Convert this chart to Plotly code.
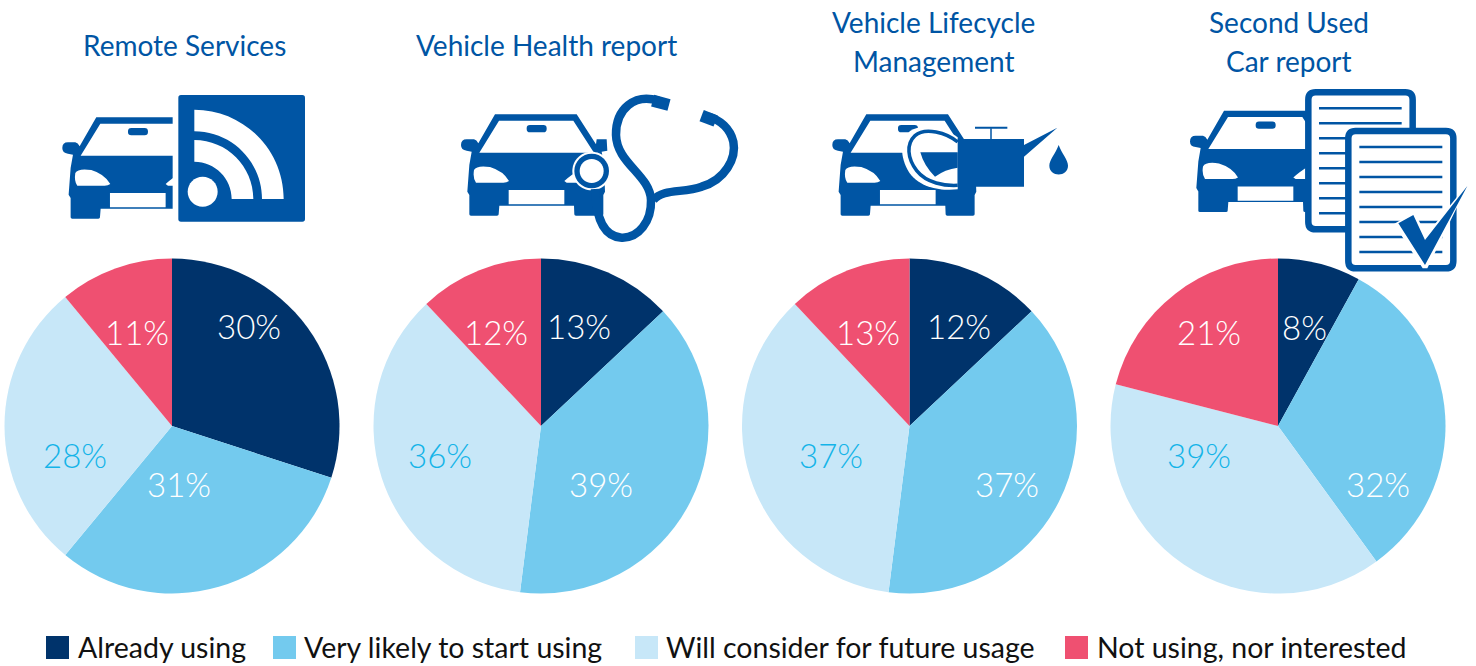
import re
import plotly.graph_objects as go

W, H = 1476, 666
FONT = "Lato"
categories = ["Already using", "Very likely to start using", "Will consider for future usage", "Not using, nor interested"]
colors = ["#00336b", "#73caee", "#c7e7f8", "#ef5071"]
blue = "#0055a4"
titles = [["Remote Services"], ["Vehicle Health report"], ["Vehicle Lifecycle", "Management"], ["Second Used", "Car report"]]
remote = [30, 31, 28, 11]
health = [13, 39, 36, 12]
lifecycle = [13, 39, 36, 12]
used = [8, 32, 39, 21]
remote_labels = ["30%", "31%", "28%", "11%"]
health_labels = ["13%", "39%", "36%", "12%"]
lifecycle_labels = ["12%", "37%", "37%", "13%"]
used_labels = ["8%", "32%", "39%", "21%"]

series = [remote, health, lifecycle, used]
series_labels = [remote_labels, health_labels, lifecycle_labels, used_labels]
centers = [172, 541, 909.5, 1278]
CY, R = 426, 167.5
label_xy = [
    [(249, 326), (179, 484), (75, 455), (137, 332)],
    [(579, 326), (601, 484), (440, 455), (496, 332)],
    [(959, 326), (1007, 484), (831, 455), (868, 332)],
    [(1304, 327), (1378, 484), (1199, 455), (1209, 332)],
]
title_xy = [[(184, 45)], [(546, 45)], [(933, 22), (933, 61)], [(1289, 22), (1289, 61)]]
legend_sq = [46, 273, 635, 1065]
legend_tx = [76, 302, 664, 1095]


def P(path, ox=0, oy=0, s=1.0):
    def rep(m):
        x = (float(m.group(1)) / s + ox) / W
        y = 1 - (float(m.group(2)) / s + oy) / H
        return f"{x:.5f},{y:.5f}"
    return re.sub(r"(-?\d+\.?\d*),(-?\d+\.?\d*)", rep, path)


shapes = []


def add(path, ox=0, oy=0, fill=blue, line=None, lw=0):
    sh = dict(type="path", xref="paper", yref="paper", path=P(path, ox, oy, 3.0), layer="above")
    sh["fillcolor"] = fill if fill else "rgba(0,0,0,0)"
    sh["line"] = dict(color=line if line else "rgba(0,0,0,0)", width=lw)
    shapes.append(sh)


def circle(cx, cy, r):
    k = 0.5523 * r
    return (f"M{cx-r},{cy} C{cx-r},{cy-k} {cx-k},{cy-r} {cx},{cy-r} C{cx+k},{cy-r} {cx+r},{cy-k} {cx+r},{cy} "
            f"C{cx+r},{cy+k} {cx+k},{cy+r} {cx},{cy+r} C{cx-k},{cy+r} {cx-r},{cy+k} {cx-r},{cy} Z")


def rrect(x0, y0, x1, y1, r):
    return (f"M{x0+r},{y0} L{x1-r},{y0} Q{x1},{y0} {x1},{y0+r} L{x1},{y1-r} Q{x1},{y1} {x1-r},{y1} "
            f"L{x0+r},{y1} Q{x0},{y1} {x0},{y1-r} L{x0},{y0+r} Q{x0},{y0} {x0+r},{y0} Z")


def band(cx, cy, r0, r1):
    k0, k1 = 0.5523 * r0, 0.5523 * r1
    return (f"M{cx},{cy-r1} C{cx+k1},{cy-r1} {cx+r1},{cy-k1} {cx+r1},{cy} L{cx+r0},{cy} "
            f"C{cx+r0},{cy-k0} {cx+k0},{cy-r0} {cx},{cy-r0} Z")


CAR = ("M135,88 L380,88 L438,178 L440,163 L470,163 L472,197 L455,200 L462,240 L465,320 L460,330 L460,388 "
       "Q460,392 455,392 L378,392 Q373,392 373,388 L372,362 L148,362 L146,388 Q146,392 141,392 L63,392 Q58,392 58,388 "
       "L58,330 L52,320 L58,240 L65,200 L50,197 Q33,195 33,180 Q33,163 50,163 L72,163 Q80,165 85,175 Z "
       "M147,107 L370,107 L432,203 L88,203 Z "
       + rrect(230, 120, 290, 142, 10) + " "
       "M72,255 Q80,240 120,246 Q160,258 177,288 Q170,293 160,293 L78,293 Q68,280 72,255 Z "
       "M343,288 Q360,272 392,252 L392,293 L350,293 Z "
       "M176,315 L343,315 L343,358 L176,358 Z")

# icon 1: car + feed square
add(CAR, 51.3, 88)
add("M368,0 L500,0 L500,420 L368,420 Z", 50, 85, fill="white")
add(rrect(385, 30, 765, 410, 8), 50, 85)
add(band(433, 342, 112, 177), 50, 85, fill="white")
add(band(433, 342, 203, 268), 50, 85, fill="white")
add(circle(458, 320, 45), 50, 85, fill="white")

# icon 2: car + stethoscope
ox, oy = 450, 85
add(CAR, ox, oy)
add(circle(425, 258, 58), ox, oy, fill="white")
add(circle(425, 258, 52), ox, oy)
add(circle(425, 258, 36), ox, oy, fill="white")
add("M435,312 C438,400 460,455 515,458 C565,460 605,410 603,345 C600,270 500,235 498,150 C497,70 555,25 625,47",
    ox, oy, fill=None, line=blue, lw=8.5)
add("M610,345 C640,310 700,325 755,305 C825,285 860,220 850,170 C840,130 810,105 775,95",
    ox, oy, fill=None, line=blue, lw=8.5)
add("M608,47 L657,60", ox, oy, fill=None, line=blue, lw=12)
add("M755,92 L797,108", ox, oy, fill=None, line=blue, lw=12)

# icon 3: car + oil can + magnifier
ox, oy = 820, 100
add(CAR, 821.3, 85)
add("M413,112 L413,268 C370,272 305,268 268,218 C238,170 240,122 270,93 C305,68 380,85 413,112 Z", ox, oy, fill="white")
add("M413,126 C380,98 315,80 285,107 C258,132 262,175 290,212 C320,250 375,258 413,256", ox, oy, fill=None, line=blue, lw=3.5)
add("M301,157 L413,157 L413,203 Q375,208 345,230 Q312,198 301,157 Z", ox, oy)
add("M413,117 L612,117 L612,135 L712,83 L612,170 L612,260 L413,260 Z", ox, oy)
add("M513,85 L513,117", ox, oy, fill=None, line=blue, lw=1.5)
add("M465,83 L562,83", ox, oy, fill=None, line=blue, lw=2)
add("M716,135 C725,160 744,180 744,197 C744,232 688,232 688,197 C688,180 707,160 716,135 Z", ox, oy)

# icon 4: car + papers + check
ox, oy = 1180, 80
add(CAR, 1179, 81.4)
add(rrect(385, 37, 698, 448, 22), ox, oy, fill="white", line=blue, lw=6.5)
add(" ".join(f"M417,{y} L665,{y}" for y in [85, 130, 175, 220, 265, 310, 355, 400]), ox, oy, fill=None, line=blue, lw=2.5)
add(rrect(505, 153, 820, 565, 22), ox, oy, fill="white", line=blue, lw=6.5)
add(" ".join(f"M538,{y} L787,{y}" for y in [201, 246, 291, 336, 381, 426, 471, 516]), ox, oy, fill=None, line=blue, lw=2.5)
add("M642,432 L704,396 L738,465 L868,305 L742,565 L728,565 Z", ox, oy, fill="white")
add("M655,430 L700,405 L735,480 L862,318 L735,555 Z", ox, oy)

# legend squares
for x, c in zip(legend_sq, colors):
    shapes.append(dict(type="rect", xref="paper", yref="paper", x0=x / W, x1=(x + 23) / W,
                       y0=1 - 659 / H, y1=1 - 636 / H, fillcolor=c, line=dict(width=0), layer="above"))

fig = go.Figure()
for vals, cx in zip(series, centers):
    fig.add_trace(go.Pie(values=vals, labels=categories, sort=False, direction="clockwise", rotation=0,
                         marker=dict(colors=colors, line=dict(width=0)), textinfo="none", hoverinfo="label+percent",
                         domain=dict(x=[(cx - R) / W, (cx + R) / W], y=[1 - (CY + R) / H, 1 - (CY - R) / H])))

ann = []


def text(x, y, s, size, color, anchor="center", weight=400):
    ann.append(dict(x=x / W, y=1 - y / H, xref="paper", yref="paper", text=s, showarrow=False, xanchor=anchor,
                    yanchor="middle", font=dict(family=FONT, size=size, color=color, weight=weight)))


for lines, xys in zip(titles, title_xy):
    for s, (x, y) in zip(lines, xys):
        text(x, y, s, 28, blue)
pct_colors = ["#ffffff", "#ffffff", "#14b4e8", "#ffffff"]
for labs, xys in zip(series_labels, label_xy):
    for s, (x, y), c in zip(labs, xys, pct_colors):
        text(x, y, s, 33, c, weight=300)
for s, x in zip(categories, legend_tx):
    text(x, 647, s, 28.5, "#111111", "left")

fig.update_layout(width=W, height=H, margin=dict(l=0, r=0, t=0, b=0), showlegend=False,
                  paper_bgcolor="white", plot_bgcolor="white", shapes=shapes, annotations=ann)
fig.write_html("out.html", config=dict(displayModeBar=False),
               post_script="document.body.style.margin='0';document.body.style.overflow='hidden';")
